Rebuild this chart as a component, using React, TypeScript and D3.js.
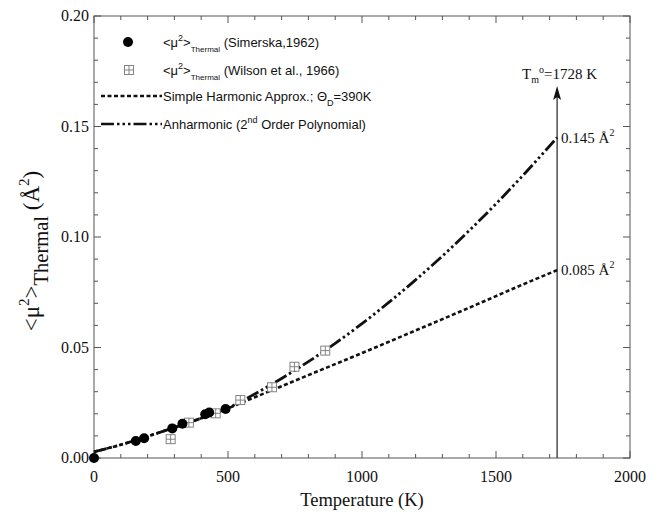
import React from "react";
import * as d3 from "d3";

const X_TICKS = [0, 500, 1000, 1500, 2000];
const Y_TICKS = [0, 0.05, 0.1, 0.15, 0.2];
const X_LABELS = ["0", "500", "1000", "1500", "2000"];
const Y_LABELS = ["0.00", "0.05", "0.10", "0.15", "0.20"];

// Simerska, 1962 (filled circles): [T (K), <u^2> (Å^2)]
const simerska: [number, number][] = [
  [0, 0.0],
  [156, 0.0077],
  [187, 0.0089],
  [292, 0.0134],
  [330, 0.0155],
  [415, 0.0198],
  [430, 0.0206],
  [491, 0.0222],
];

// Wilson et al., 1966 (open squares with cross)
const wilson: [number, number][] = [
  [286, 0.0085],
  [354, 0.016],
  [454, 0.0202],
  [546, 0.0262],
  [664, 0.032],
  [748, 0.0413],
  [863, 0.0486],
];

// Simple harmonic approximation curve
const harmonic: [number, number][] = [
  [0, 0.0028],
  [100, 0.006],
  [200, 0.0098],
  [300, 0.0138],
  [400, 0.018],
  [500, 0.0225],
  [600, 0.0275],
  [700, 0.0325],
  [800, 0.0375],
  [1000, 0.0475],
  [1200, 0.0577],
  [1400, 0.068],
  [1600, 0.0785],
  [1728, 0.085],
];

// Anharmonic (2nd order polynomial) curve
const anharmonic: [number, number][] = [
  [0, 0.0028],
  [100, 0.006],
  [200, 0.0098],
  [300, 0.0138],
  [400, 0.018],
  [500, 0.0226],
  [600, 0.029],
  [700, 0.036],
  [800, 0.0436],
  [900, 0.0519],
  [1000, 0.0608],
  [1100, 0.0704],
  [1200, 0.0806],
  [1300, 0.0914],
  [1400, 0.1029],
  [1500, 0.115],
  [1600, 0.1278],
  [1728, 0.145],
];

const T_MELT = 1728;

export default function App() {
  const W = 671;
  const H = 517;
  const x = d3.scaleLinear().domain([0, 2000]).range([94, 630]);
  const y = d3.scaleLinear().domain([0, 0.2]).range([458, 16]);
  const line = d3
    .line<[number, number]>()
    .x((d) => x(d[0]))
    .y((d) => y(d[1]))
    .curve(d3.curveMonotoneX);

  const axisColor = "#555";
  const serif = "'Liberation Serif', 'Times New Roman', serif";
  const sans = "'Liberation Sans', Arial, Helvetica, sans-serif";

  const xMinor = d3.range(0, 2001, 100);
  const yMinor = d3.range(0, 0.2001, 0.01);

  const [x0, x1] = x.range();
  const [y0, y1] = y.range();

  const harmDash = "4 2.5";
  const anhDash = "13 3 2.5 3 2.5 3 2.5 3";

  const sq = 9;
  const Square = ({ cx, cy }: { cx: number; cy: number }) => (
    <g stroke="#777" strokeWidth={0.9} fill="white">
      <rect x={cx - sq / 2} y={cy - sq / 2} width={sq} height={sq} />
      <line x1={cx} x2={cx} y1={cy - sq / 2} y2={cy + sq / 2} />
      <line x1={cx - sq / 2} x2={cx + sq / 2} y1={cy} y2={cy} />
    </g>
  );

  const legendX = 163;
  const legFont = 13;

  return (
    <svg
      width={W}
      height={H}
      style={{ position: "absolute", left: 0, top: 0, background: "white" }}
    >
      <rect x={0} y={0} width={W} height={H} fill="white" />
      {/* frame */}
      <rect
        x={x0}
        y={y1}
        width={x1 - x0}
        height={y0 - y1}
        fill="none"
        stroke={axisColor}
        strokeWidth={1}
      />
      {/* x ticks bottom & top */}
      {xMinor.map((t) => {
        const major = t % 500 === 0;
        const len = major ? 7 : 4;
        return (
          <g key={"xt" + t} stroke={axisColor} strokeWidth={1}>
            <line x1={x(t)} x2={x(t)} y1={y0} y2={y0 - len} />
            <line x1={x(t)} x2={x(t)} y1={y1} y2={y1 + len} />
          </g>
        );
      })}
      {/* y ticks left & right */}
      {yMinor.map((v, i) => {
        const major = i % 5 === 0;
        const len = major ? 7 : 4;
        return (
          <g key={"yt" + i} stroke={axisColor} strokeWidth={1}>
            <line x1={x0} x2={x0 + len} y1={y(v)} y2={y(v)} />
            <line x1={x1} x2={x1 - len} y1={y(v)} y2={y(v)} />
          </g>
        );
      })}
      {/* tick labels */}
      {X_TICKS.map((t, i) => (
        <text
          key={"xl" + t}
          x={x(t)}
          y={y0 + 24}
          textAnchor="middle"
          fontFamily={serif}
          fontSize={16}
          fill="#111"
        >
          {X_LABELS[i]}
        </text>
      ))}
      {Y_TICKS.map((v, i) => (
        <text
          key={"yl" + i}
          x={x0 - 5}
          y={y(v) + 5}
          textAnchor="end"
          fontFamily={serif}
          fontSize={16}
          fill="#111"
        >
          {Y_LABELS[i]}
        </text>
      ))}
      {/* axis titles */}
      <text
        x={(x0 + x1) / 2}
        y={506}
        textAnchor="middle"
        fontFamily={serif}
        fontSize={18.5}
        fill="#111"
      >
        Temperature (K)
      </text>
      <text
        transform={`translate(39, ${(y0 + y1) / 2 + 14}) rotate(-90)`}
        textAnchor="middle"
        fontFamily={serif}
        fontSize={23}
        fill="#111"
      >
        {"<μ"}
        <tspan dy={-10} fontSize={15}>
          2
        </tspan>
        <tspan dy={10}>{">"}</tspan>
        <tspan dy={9} fontSize={20.5}>
          Thermal
        </tspan>
        <tspan dy={-9}>{" (Å"}</tspan>
        <tspan dy={-10} fontSize={15}>
          2
        </tspan>
        <tspan dy={10}>{")"}</tspan>
      </text>

      {/* melting point arrow */}
      <line
        x1={x(T_MELT)}
        x2={x(T_MELT)}
        y1={y0}
        y2={96}
        stroke="#222"
        strokeWidth={1.2}
      />
      <path
        d={`M${x(T_MELT)},86 L${x(T_MELT) - 4},100 L${x(T_MELT)},97 L${x(T_MELT) + 4},100 Z`}
        fill="#111"
      />
      <text
        x={x(T_MELT) + 40}
        y={79}
        textAnchor="end"
        fontFamily={serif}
        fontSize={15}
        fill="#111"
      >
        T
        <tspan dy={4} fontSize={10}>
          m
        </tspan>
        <tspan dy={-10} fontSize={10}>
          o
        </tspan>
        <tspan dy={6}>=1728 K</tspan>
      </text>

      {/* curves */}
      <path
        d={line(harmonic) || ""}
        fill="none"
        stroke="#111"
        strokeWidth={2.6}
        strokeDasharray={harmDash}
      />
      <path
        d={line(anharmonic) || ""}
        fill="none"
        stroke="#111"
        strokeWidth={2.8}
        strokeDasharray={anhDash}
      />

      {/* end labels */}
      <text
        x={x(T_MELT) + 4}
        y={y(0.145) + 5}
        fontFamily={serif}
        fontSize={15}
        fill="#111"
      >
        0.145 Å
        <tspan dy={-7} fontSize={10}>
          2
        </tspan>
      </text>
      <text
        x={x(T_MELT) + 4}
        y={y(0.085) + 5}
        fontFamily={serif}
        fontSize={15}
        fill="#111"
      >
        0.085 Å
        <tspan dy={-7} fontSize={10}>
          2
        </tspan>
      </text>

      {/* data points */}
      {wilson.map((d, i) => (
        <Square key={"w" + i} cx={x(d[0])} cy={y(d[1])} />
      ))}
      {simerska.map((d, i) => (
        <circle key={"s" + i} cx={x(d[0])} cy={y(d[1])} r={5} fill="#000" />
      ))}

      {/* legend */}
      <g fontFamily={sans} fontSize={legFont} fill="#111">
        <circle cx={128} cy={42} r={5} fill="#000" />
        <text x={legendX} y={47}>
          {"<μ"}
          <tspan dy={-6} fontSize={9}>
            2
          </tspan>
          <tspan dy={6}>{">"}</tspan>
          <tspan dy={5} fontSize={8}>
            Thermal
          </tspan>
          <tspan dy={-5}>{"  (Simerska,1962)"}</tspan>
        </text>

        <Square cx={129} cy={70} />
        <text x={legendX} y={75}>
          {"<μ"}
          <tspan dy={-6} fontSize={9}>
            2
          </tspan>
          <tspan dy={6}>{">"}</tspan>
          <tspan dy={5} fontSize={8}>
            Thermal
          </tspan>
          <tspan dy={-5}>{" (Wilson et al., 1966)"}</tspan>
        </text>

        <line
          x1={101}
          x2={162}
          y1={96}
          y2={96}
          stroke="#111"
          strokeWidth={2.4}
          strokeDasharray={harmDash}
        />
        <text x={legendX} y={101}>
          {"Simple Harmonic Approx.; Θ"}
          <tspan dy={5} fontSize={9}>
            D
          </tspan>
          <tspan dy={-5}>=390K</tspan>
        </text>

        <line
          x1={101}
          x2={162}
          y1={124}
          y2={124}
          stroke="#111"
          strokeWidth={2.6}
          strokeDasharray={anhDash}
        />
        <text x={legendX} y={129}>
          {"Anharmonic (2"}
          <tspan dy={-6} fontSize={9}>
            nd
          </tspan>
          <tspan dy={6}>{" Order Polynomial)"}</tspan>
        </text>
      </g>
    </svg>
  );
}
